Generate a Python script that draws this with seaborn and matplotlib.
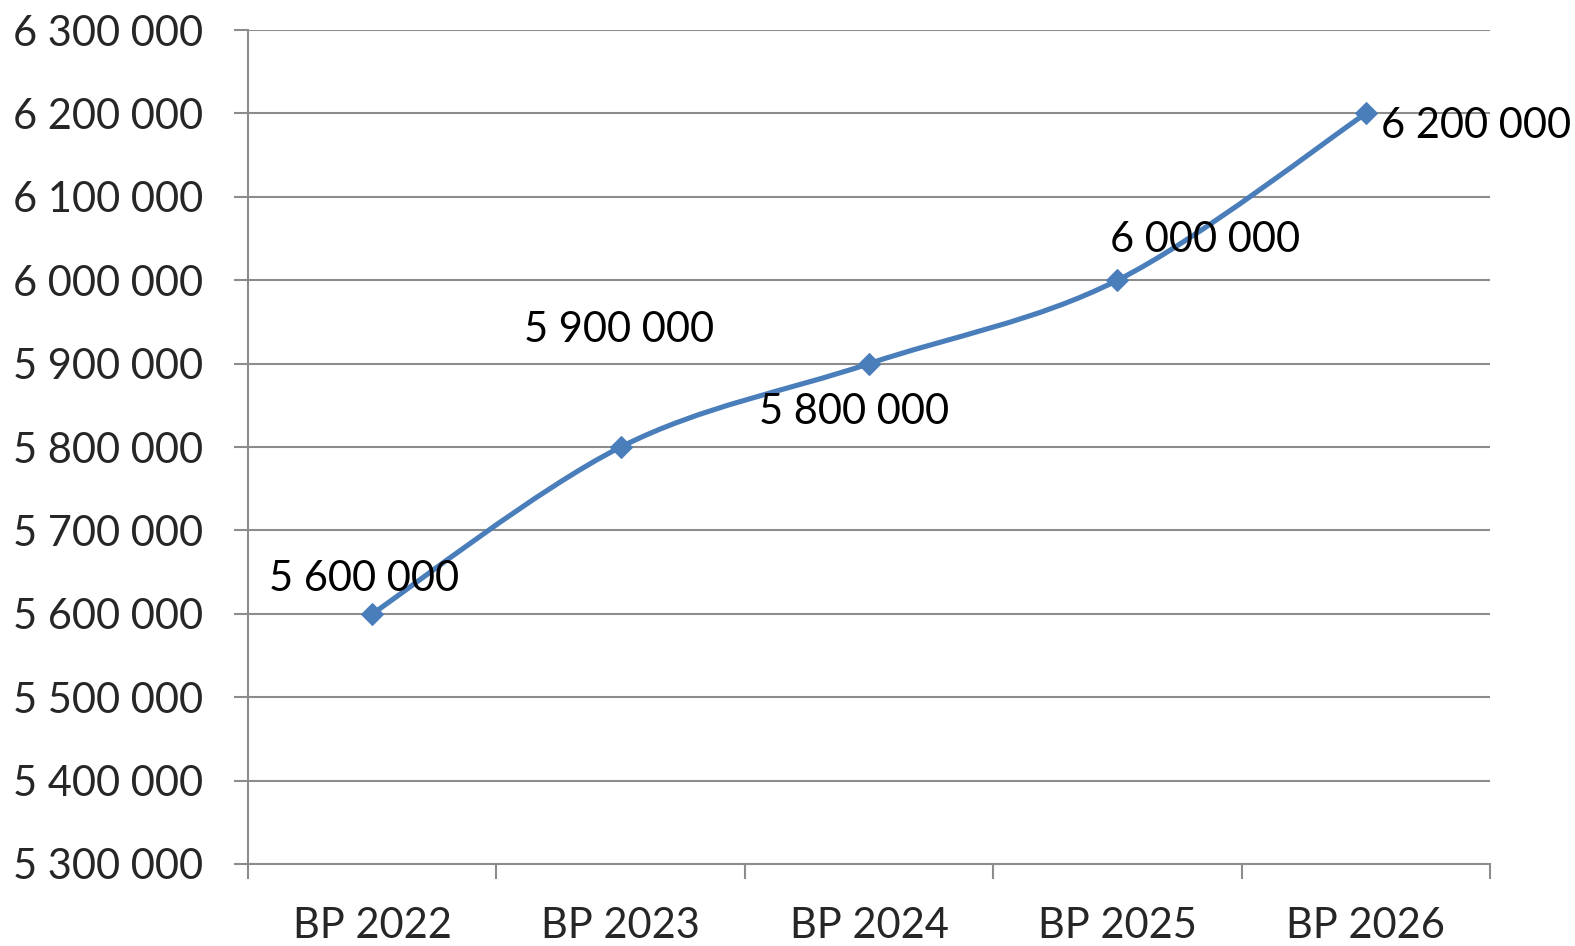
# plot.py
# Smooth line chart: BP 2022 - BP 2026

import numpy as np
import pandas as pd
import matplotlib
matplotlib.use('Agg')
import matplotlib.pyplot as plt
from matplotlib.path import Path
from matplotlib.patches import PathPatch
from matplotlib.ticker import FuncFormatter, FixedLocator
import seaborn as sns

# ── Data ───────────────────────────────────────────────
categories = ['BP 2022', 'BP 2023', 'BP 2024', 'BP 2025', 'BP 2026']
values = [5600000, 5800000, 5900000, 6000000, 6200000]
# data labels as shown in the chart (2023 / 2024 labels are swapped there)
point_labels = ['5 600 000', '5 900 000', '5 800 000', '6 000 000', '6 200 000']
y_ticks = [5300000, 5400000, 5500000, 5600000, 5700000, 5800000,
           5900000, 6000000, 6100000, 6200000, 6300000]

# label offsets in points (dx, dy) and alignment
label_offsets = [(-6, 25), (-1, 84), (-11, -35), (63, 29), (11, -9)]
label_ha = ['center', 'center', 'center', 'center', 'left']

LINE_COLOR = '#4a7ebb'
GRID_COLOR = '#8c8c8c'
FONT = ['Lato', 'DejaVu Sans']
FS = 30

sns.set_style('white')
plt.rcParams['font.family'] = FONT

fig = plt.figure(figsize=(15.75, 9.46), dpi=100)
ax = fig.add_axes([0.1575, 0.0867, 0.7886, 0.8815])

df = pd.DataFrame({'cat': categories, 'value': values})
df['pos'] = np.arange(len(categories))

# smooth curve (Catmull-Rom style Bezier, like Excel's smoothed line)
pts = df[['pos', 'value']].to_numpy(dtype=float)
verts = [tuple(pts[0])]
codes = [Path.MOVETO]
for i in range(len(pts) - 1):
    p0 = pts[i - 1] if i > 0 else pts[i]
    p1 = pts[i]
    p2 = pts[i + 1]
    p3 = pts[i + 2] if i + 2 < len(pts) else pts[i + 1]
    c1 = p1 + (p2 - p0) / 6.0
    c2 = p2 - (p3 - p1) / 6.0
    verts += [tuple(c1), tuple(c2), tuple(p2)]
    codes += [Path.CURVE4] * 3
ax.add_patch(PathPatch(Path(verts, codes), facecolor='none',
                       edgecolor=LINE_COLOR, linewidth=3.7,
                       capstyle='round', zorder=3))

# markers
sns.lineplot(data=df, x='pos', y='value', ax=ax, marker='D', markersize=11,
             linestyle='', color=LINE_COLOR, markeredgecolor=LINE_COLOR,
             zorder=4)

# data labels
for i, row in df.iterrows():
    dx, dy = label_offsets[i]
    ax.annotate(point_labels[i], (row['pos'], row['value']),
                xytext=(dx, dy), textcoords='offset points',
                ha=label_ha[i], va='center', fontsize=FS, color='black',
                zorder=5)

# ── Axes ───────────────────────────────────────────────
ax.set_xlim(-0.5, len(categories) - 0.5)
ax.set_ylim(y_ticks[0], y_ticks[-1])
ax.set_yticks(y_ticks)
ax.yaxis.set_major_formatter(
    FuncFormatter(lambda v, p: f'{int(v):,}'.replace(',', ' ')))
ax.grid(axis='y', color=GRID_COLOR, linewidth=1.5)
ax.set_axisbelow(True)

# category boundaries as major ticks, labels at centers as minor ticks
ax.xaxis.set_major_locator(FixedLocator(np.arange(len(categories) + 1) - 0.5))
ax.xaxis.set_major_formatter(FuncFormatter(lambda v, p: ''))
ax.xaxis.set_minor_locator(FixedLocator(np.arange(len(categories))))
ax.set_xticklabels(categories, minor=True)
ax.tick_params(axis='x', which='major', direction='out', length=11,
               width=1.5, color=GRID_COLOR, bottom=True)
ax.tick_params(axis='x', which='minor', length=0, pad=31, labelsize=FS)
ax.tick_params(axis='y', direction='out', length=10, width=1.5,
               color=GRID_COLOR, left=True, pad=22, labelsize=FS)

for side in ['top', 'right']:
    ax.spines[side].set_visible(False)
for side in ['left', 'bottom']:
    ax.spines[side].set_color(GRID_COLOR)
    ax.spines[side].set_linewidth(1.5)

ax.set_xlabel('')
ax.set_ylabel('')

fig.savefig('out.png', dpi=100)
plt.close(fig)
